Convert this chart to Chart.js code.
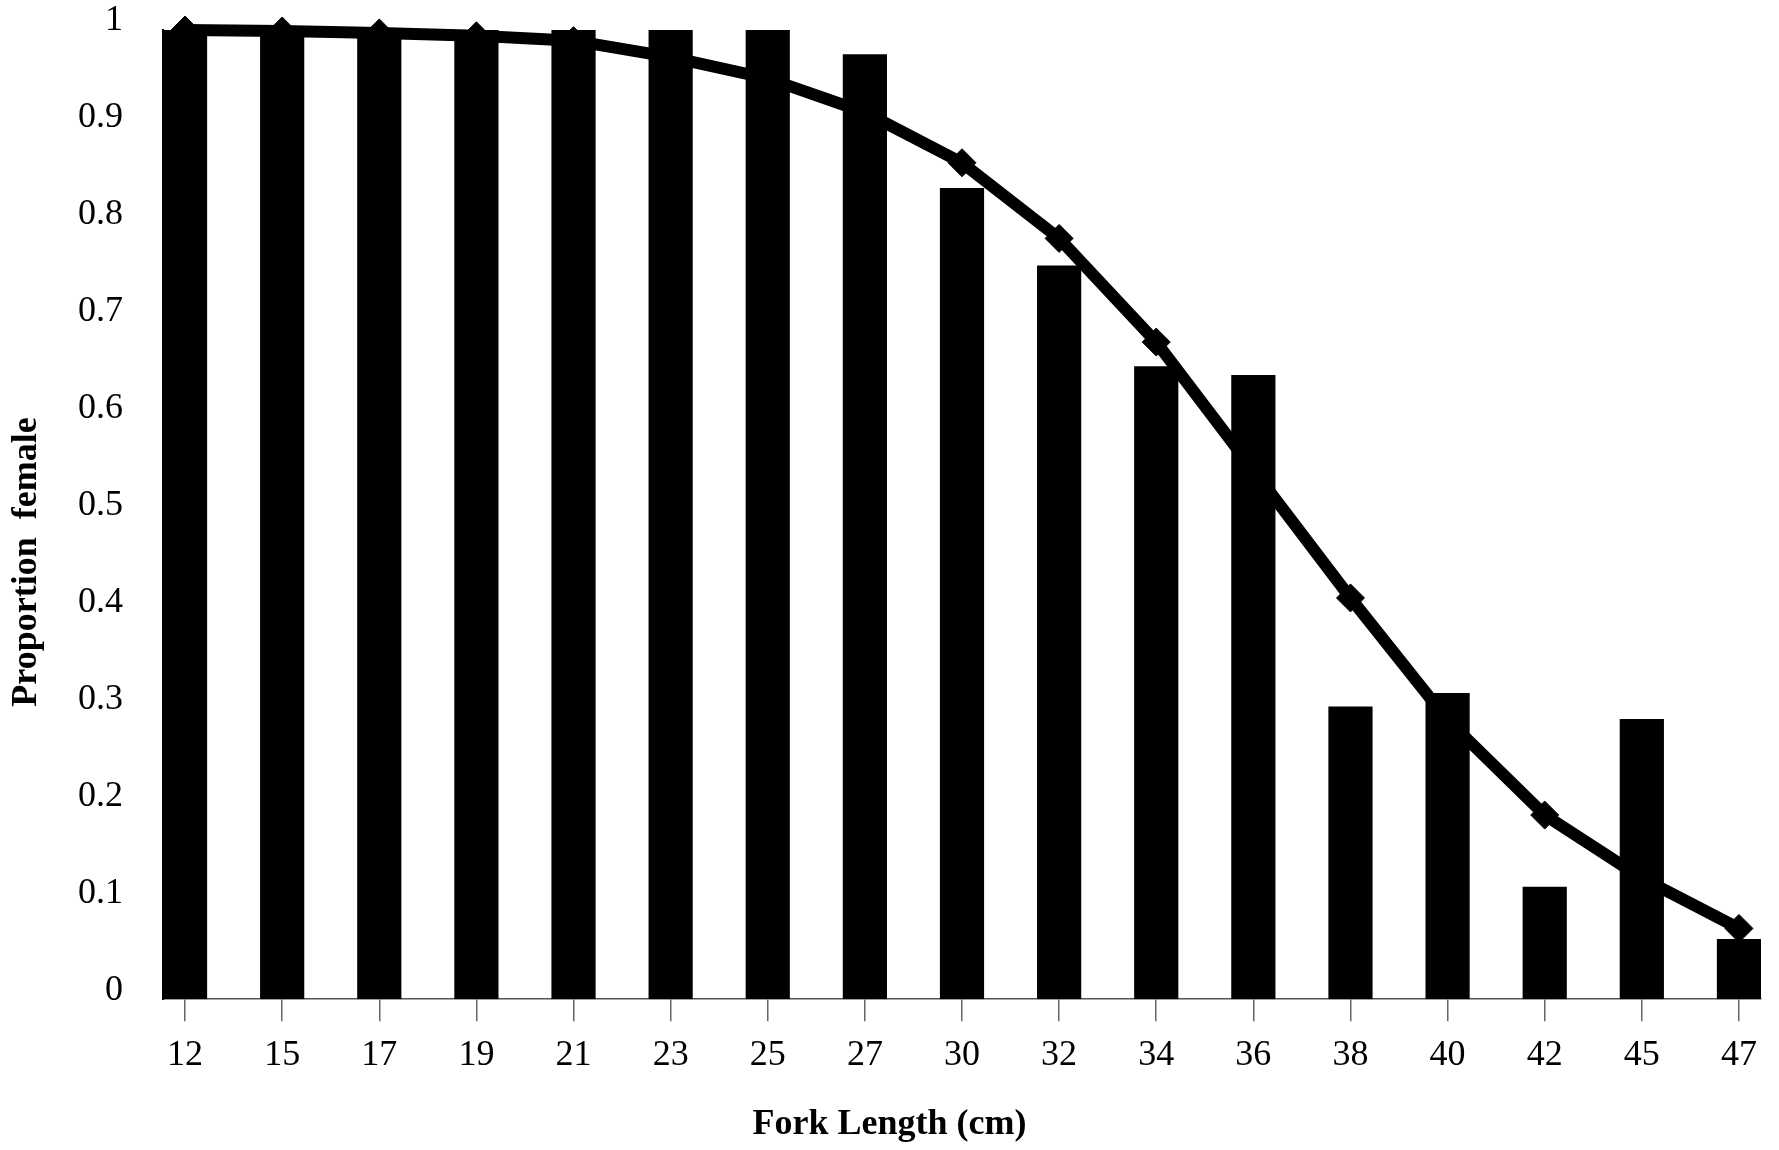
<!DOCTYPE html>
<html>
<head>
<meta charset="utf-8">
<script src="https://cdn.jsdelivr.net/npm/chart.js@4.4.1/dist/chart.umd.min.js"></script>
<style>
  html, body { margin: 0; padding: 0; background: #ffffff; }
  #wrap { width: 1779px; height: 1150px; position: relative; }
</style>
</head>
<body>
<div id="wrap"><canvas id="c"></canvas></div>
<script>
// Fork length classes (cm)
const categories = ['12','15','17','19','21','23','25','27','30','32','34','36','38','40','42','45','47'];
// Observed proportion female (bars)
const observed = [1.0, 1.0, 1.0, 1.0, 1.0, 1.0, 1.0, 0.975, 0.837, 0.757, 0.653, 0.644, 0.302, 0.316, 0.116, 0.289, 0.062];
// Fitted proportion female (line with markers)
const fitted = [1.0, 0.999, 0.997, 0.994, 0.989, 0.972, 0.950, 0.915, 0.863, 0.785, 0.678, 0.546, 0.414, 0.288, 0.190, 0.125, 0.073];
// Y axis tick values and labels
const yTickValues = [0, 0.1, 0.2, 0.3, 0.4, 0.5, 0.6, 0.7, 0.8, 0.9, 1];
const yTickLabels = ['0', '0.1', '0.2', '0.3', '0.4', '0.5', '0.6', '0.7', '0.8', '0.9', '1'];
const xTitle = 'Fork Length (cm)';
const yTitle = 'Proportion  female';

const FONT = "'Liberation Serif', 'Times New Roman', serif";

const barPoints = observed.map((v, i) => ({ x: i, y: v }));
const linePoints = fitted.map((v, i) => ({ x: i, y: v }));

new Chart(document.getElementById('c'), {
  data: {
    datasets: [
      {
        type: 'bar',
        label: 'Observed',
        data: barPoints,
        backgroundColor: '#000000',
        borderColor: '#000000',
        borderWidth: 0,
        barPercentage: 0.455,
        categoryPercentage: 1.0,
        order: 0
      },
      {
        type: 'line',
        label: 'Fitted',
        data: linePoints,
        borderColor: '#000000',
        backgroundColor: '#000000',
        borderWidth: 12,
        tension: 0,
        pointStyle: 'rectRot',
        pointRadius: 14,
        pointBackgroundColor: '#000000',
        pointBorderColor: '#000000',
        pointBorderWidth: 1,
        clip: false,
        order: 1
      }
    ]
  },
  options: {
    responsive: true,
    maintainAspectRatio: false,
    animation: false,
    devicePixelRatio: 1,
    layout: { padding: { top: 0, right: 0, bottom: 26, left: 0 } },
    plugins: {
      legend: { display: false },
      tooltip: { enabled: false },
      title: {
        display: true,
        text: xTitle,
        position: 'bottom',
        fullSize: true,
        color: '#000000',
        font: { family: FONT, size: 36, weight: 'bold' },
        padding: { top: 13, bottom: -22.6 }
      },
      subtitle: {
        display: true,
        text: yTitle,
        position: 'left',
        fullSize: true,
        color: '#000000',
        font: { family: FONT, size: 36, weight: 'bold', lineHeight: 0.5 },
        padding: { top: 18, bottom: 2 }
      }
    },
    scales: {
      x: {
        type: 'linear',
        offset: false,
        min: -0.227,
        max: 16.227,
        afterBuildTicks: (axis) => { axis.ticks = categories.map((c, i) => ({ value: i })); },
        afterFit: (scale) => { scale.paddingRight = 18; },
        ticks: {
          autoSkip: false,
          maxRotation: 0,
          minRotation: 0,
          padding: 13,
          color: '#000000',
          font: { family: FONT, size: 36 },
          callback: (value) => categories[Math.round(value)]
        },
        grid: {
          display: true,
          offset: false,
          drawOnChartArea: false,
          drawTicks: true,
          tickLength: 22,
          color: '#666666',
          lineWidth: 1.5
        },
        border: { display: true, color: '#555555', width: 1.5 }
      },
      y: {
        type: 'linear',
        min: 0,
        max: 1,
        afterBuildTicks: (axis) => { axis.ticks = yTickValues.map(v => ({ value: v })); },
        afterFit: (scale) => { scale.paddingTop = 30; },
        ticks: {
          padding: 40,
          color: '#000000',
          font: { family: FONT, size: 36, lineHeight: 0.5 },
          callback: (value) => {
            const idx = yTickValues.findIndex(v => Math.abs(v - value) < 1e-9);
            return [idx >= 0 ? yTickLabels[idx] : '', ''];
          }
        },
        grid: { display: false, drawTicks: false },
        border: { display: true, color: '#000000', width: 2 }
      }
    }
  }
});
</script>
</body>
</html>
